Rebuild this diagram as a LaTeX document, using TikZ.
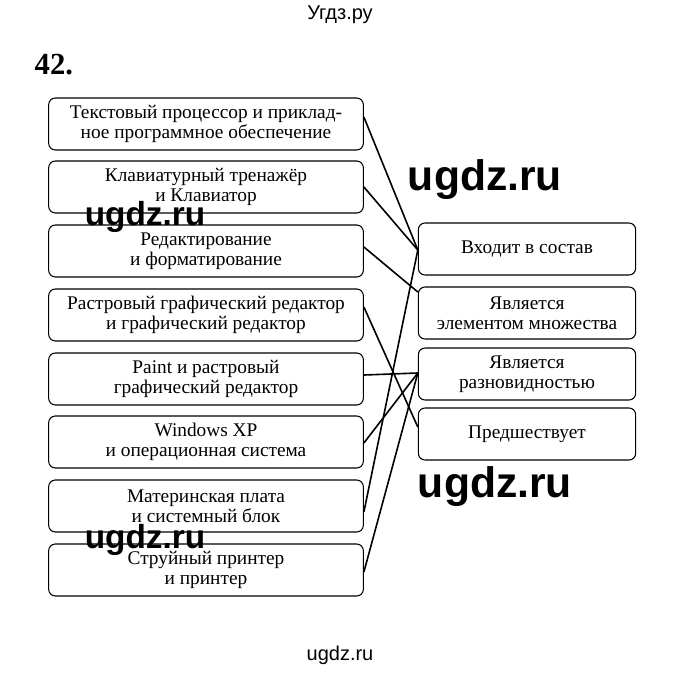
\documentclass[tikz,border=0pt]{standalone}
\usepackage{fontspec}
\setmainfont{Liberation Serif}
\newfontfamily\wmfont{Liberation Sans}
\begin{document}
\begin{tikzpicture}[x=0.75pt,y=-0.75pt,
	lbox/.style={draw,line width=0.8pt,rounded corners=5pt,minimum width=236pt,minimum height=39pt,inner sep=1pt,align=center,font=\fontsize{14.5}{15}\selectfont},
	rbox/.style={lbox,minimum width=163pt},
	wmark/.style={font=\wmfont\bfseries\fontsize{32}{34}\selectfont}]
	\useasboundingbox (0,0) rectangle (680,673);
	\node at(340,15){\wmfont\fontsize{15}{17}\selectfont Угдз.ру};
	\node at(340,655){\wmfont\fontsize{15}{17}\selectfont ugdz.ru};
	\node[anchor=west] at(30,65){\fontsize{23}{25}\selectfont\bfseries 42.};

	\node[lbox] (l1) at(206,124){Текстовый процессор и приклад-\\ное программное обеспечение};
	\node[lbox] (l2) at(206,187){Клавиатурный тренажёр\\и Клавиатор};
	\node[lbox] (l3) at(206,251){Редактирование\\и форматирование};
	\node[lbox] (l4) at(206,315){Растровый графический редактор\\и графический редактор};
	\node[lbox] (l5) at(206,379){Paint и растровый\\графический редактор};
	\node[lbox] (l6) at(206,442){Windows XP\\и операционная система};
	\node[lbox] (l7) at(206,506){Материнская плата\\и системный блок};
	\node[lbox] (l8) at(206,570){Струйный принтер\\и принтер};

	\node[rbox] (r1) at(527,249){Входит в состав};
	\node[rbox] (r2) at(527,313){Является\\элементом множества};
	\node[rbox] (r3) at(527,374){Является\\разновидностью};
	\node[rbox] (r4) at(527,434){Предшествует};

	\draw[line width=1.2pt] (l1.east |- 0,117) -- (r1.west |- 0,250);
	\draw[line width=1.2pt] (l2.east) -- (r1.west |- 0,250);
	\draw[line width=1.2pt] (l3.east |- 0,247) -- (r2.west |- 0,292);
	\draw[line width=1.2pt] (l4.east |- 0,307) -- (r4.west |- 0,427);
	\draw[line width=1.2pt] (l5.east |- 0,375) -- (r3.west |- 0,373);
	\draw[line width=1.2pt] (l6.east |- 0,443) -- (r3.west |- 0,373);
	\draw[line width=1.2pt] (l7.east |- 0,512) -- (r1.west |- 0,250);
	\draw[line width=1.2pt] (l8.east |- 0,572) -- (r3.west |- 0,373);

	\node[wmark] at(485,180){ugdz.ru};
	\node[wmark] at(495,487){ugdz.ru};
	\node[wmark,font=\wmfont\bfseries\fontsize{25}{27}\selectfont] at(145,217){ugdz.ru};
	\node[wmark,font=\wmfont\bfseries\fontsize{25}{27}\selectfont] at(145,540){ugdz.ru};
\end{tikzpicture}
\end{document}
